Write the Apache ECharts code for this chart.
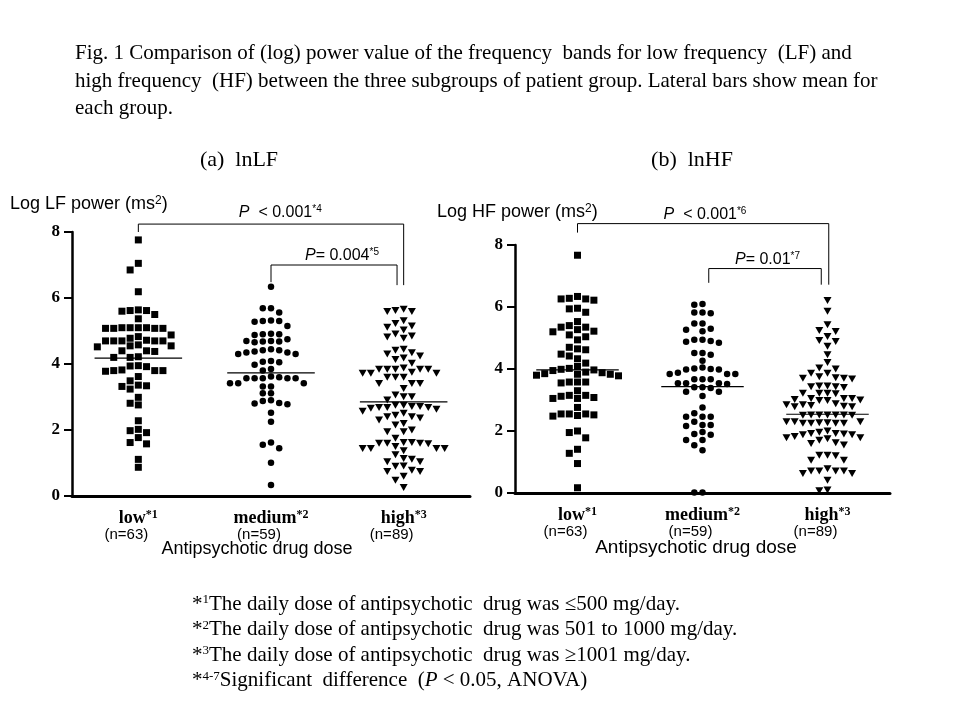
<!DOCTYPE html>
<html><head><meta charset="utf-8">
<script src="https://cdn.jsdelivr.net/npm/echarts@6/dist/echarts.min.js"></script>
<style>html,body{margin:0;padding:0;background:#fff}#c{width:960px;height:720px}</style>
</head><body><div id="c"></div>
<script>
// ---------------- data ----------------
const categories = ['low', 'medium', 'high'];
const categoryNotes = ['*1', '*2', '*3'];
const groupSizes = ['(n=63)', '(n=59)', '(n=89)'];

const lfLow = [7.76, 7.05, 6.85, 6.19, 5.64, 5.62, 5.6, 5.62, 5.5, 5.37, 5.1, 5.1, 5.08, 5.08, 5.08, 5.08, 5.1, 5.1,
  4.88, 4.83, 4.72, 4.7, 4.7, 4.7, 4.7, 4.7, 4.78, 4.58, 4.55, 4.55, 4.52, 4.4, 4.4, 4.38, 4.22, 4.2, 4.2,
  3.95, 3.94, 3.92, 3.8, 3.82, 3.8, 3.8, 3.78, 3.62, 3.49, 3.34, 3.36, 3.32, 3.24, 2.99, 2.81, 2.76, 2.28,
  2.02, 1.98, 1.92, 1.77, 1.62, 1.58, 1.11, 0.87];
const lfMedium = [6.34, 5.69, 5.69, 5.56, 5.32, 5.28, 5.3, 5.3, 5.15, 4.92, 4.9, 4.88, 4.9, 4.7, 4.68, 4.66, 4.68,
  4.7, 4.75, 4.42, 4.35, 4.45, 4.3, 4.35, 4.38, 4.42, 4.3, 4.09, 4.05, 4.07, 3.98, 3.85, 3.8, 3.6, 3.57, 3.57,
  3.57, 3.57, 3.57, 3.62, 3.42, 3.42, 3.42, 3.32, 3.32, 3.11, 3.11, 2.88, 2.8, 2.9, 2.78, 2.82, 2.52, 2.25,
  1.55, 1.45, 1.62, 1.01, 0.33];
const lfHigh = [5.62, 5.59, 5.59, 5.66, 5.31, 5.23, 5.11, 5.03, 5.15, 4.85, 4.78, 4.82, 4.91, 4.42, 4.45, 4.34,
  4.24, 4.14, 4.18, 4.3, 4.02, 3.84, 3.84, 3.84, 3.84, 3.84, 3.88, 3.6, 3.6, 3.72, 3.6, 3.72, 3.72, 3.75, 3.41,
  3.41, 3.41, 3.26, 3.01, 3.06, 2.91, 3.01, 2.71, 2.68, 2.68, 2.71, 2.75, 2.75, 2.68, 2.63, 2.66, 2.57, 2.4,
  2.51, 2.36, 2.4, 2.45, 2.3, 2.15, 1.95, 1.95, 1.6, 1.6, 1.6, 1.62, 1.62, 1.58, 1.44, 1.44, 1.37, 1.44, 1.44,
  1.14, 1.04, 1.04, 1.11, 0.91, 0.74, 0.74, 0.78, 0.48, 0.26, 2.2, 1.75, 1.25, 0.6, 0.9, 1.5, 2.0];
const hfLow = [7.67, 6.34, 6.26, 6.22, 6.26, 6.28, 5.94, 5.83, 5.96, 5.53, 5.4, 5.35, 5.22, 5.2, 5.27, 5.35, 5.1,
  4.94, 5.04, 4.7, 4.62, 4.48, 4.65, 4.42, 4.19, 4.33, 4.08, 3.97, 3.9, 3.88, 3.95, 3.99, 4.02, 3.8, 3.78,
  3.83, 3.83, 3.85, 3.58, 3.55, 3.58, 3.58, 3.3, 3.15, 3.12, 3.05, 3.05, 3.08, 3.15, 2.76, 2.55, 2.52, 2.48,
  2.5, 2.55, 2.55, 1.95, 2.0, 1.78, 1.41, 1.28, 0.95, 0.17];
const hfMedium = [6.07, 6.1, 5.82, 5.8, 5.82, 5.47, 5.47, 5.27, 5.22, 5.3, 4.94, 4.9, 4.85, 4.88, 4.94, 4.52,
  4.52, 4.46, 4.27, 4.02, 4.0, 3.98, 3.98, 4.05, 3.84, 3.84, 3.84, 3.88, 3.67, 3.67, 3.67, 3.54, 3.52, 3.54,
  3.54, 3.41, 3.39, 3.41, 3.27, 3.27, 3.13, 2.76, 2.57, 2.46, 2.46, 2.46, 2.3, 2.19, 2.19, 2.16, 1.97, 1.9,
  1.88, 1.71, 1.71, 1.54, 1.38, 0.02, 0.02];
const hfHigh = [6.21, 5.86, 5.43, 5.21, 5.24, 5.05, 4.89, 4.92, 4.73, 4.46, 4.21, 4.03, 3.86, 4.0, 3.86, 3.7,
  3.72, 3.7, 3.75, 3.68, 3.43, 3.43, 3.45, 3.45, 3.4, 3.22, 3.22, 3.22, 3.2, 3.05, 3.05, 3.0, 2.98, 2.98, 3.02,
  3.05, 2.78, 2.85, 2.8, 2.82, 2.85, 2.88, 2.78, 2.51, 2.51, 2.52, 2.52, 2.52, 2.52, 2.52, 2.3, 2.27, 2.25,
  2.25, 2.25, 2.3, 2.25, 2.27, 2.3, 2.0, 1.92, 1.88, 1.88, 1.9, 1.92, 1.96, 1.75, 1.7, 1.78, 1.78, 1.82, 1.62,
  1.6, 1.55, 1.22, 1.2, 1.06, 1.06, 1.22, 0.78, 0.71, 0.71, 0.71, 0.71, 0.63, 0.63, 0.41, 0.07, 0.1];

const lfMeans = [4.18, 3.73, 2.85];
const hfMeans = [3.97, 3.43, 2.54];

const lfPTexts = ['  < 0.001', '= 0.004'];
const lfPNotes = ['*4', '*5'];
const hfPTexts = ['  < 0.001', '= 0.01'];
const hfPNotes = ['*6', '*7'];

const titleLines = [
  'Fig. 1 Comparison of (log) power value of the frequency  bands for low frequency  (LF) and',
  'high frequency  (HF) between the three subgroups of patient group. Lateral bars show mean for',
  'each group.'
];
const footnotes = [
  ['1', 'The daily dose of antipsychotic  drug was \u2264500 mg/day.'],
  ['2', 'The daily dose of antipsychotic  drug was 501 to 1000 mg/day.'],
  ['3', 'The daily dose of antipsychotic  drug was \u22651001 mg/day.']
];

// ---------------- layout ----------------
const SERIF = '"Liberation Serif", "Times New Roman", serif';
const SANS = '"Liberation Sans", Arial, sans-serif';
const panels = [
  { grid: { left: 72, top: 232, width: 398, height: 264 }, groups: [lfLow, lfMedium, lfHigh], means: lfMeans,
    brackets: [
      { pts: [[0, 8.0], [0, 8.24], [2.0, 8.24], [2.0, 6.39]], text: lfPTexts[0], note: lfPNotes[0], at: [1.07, 8.6] },
      { pts: [[1, 6.48], [1, 7.0], [1.95, 7.0], [1.95, 6.39]], text: lfPTexts[1], note: lfPNotes[1], at: [1.535, 7.3] }
    ] },
  { grid: { left: 515, top: 245, width: 375, height: 248 }, groups: [hfLow, hfMedium, hfHigh], means: hfMeans,
    brackets: [
      { pts: [[0, 8.4], [0, 8.69], [2.01, 8.69], [2.01, 6.72]], text: hfPTexts[0], note: hfPNotes[0], at: [1.02, 8.99] },
      { pts: [[1.05, 6.78], [1.05, 7.24], [1.95, 7.24], [1.95, 6.72]], text: hfPTexts[1], note: hfPNotes[1], at: [1.52, 7.53] }
    ] }
];
const symbols = ['rect', 'circle', 'path://M0,0L10,0L5,9Z'];
const symbolSizes = [7, 6.5, [8, 7]];
const minDy = [7.5, 6.8, 7];

function swarm(values, center, unitPx, yPx, stepPx, dy) {
  const sorted = values.slice().sort((a, b) => b - a);
  const placed = [];
  const out = [];
  sorted.forEach(v => {
    const py = v * yPx;
    for (let k = 0; k < 200; k++) {
      const slot = k === 0 ? 0 : (k % 2 ? -Math.ceil(k / 2) : Math.ceil(k / 2));
      if (!placed.some(p => p.slot === slot && Math.abs(p.py - py) < dy)) {
        placed.push({ slot, py });
        out.push([center + slot * stepPx / unitPx, v]);
        break;
      }
    }
  });
  return out;
}

const grids = [], xAxes = [], yAxes = [], series = [];
panels.forEach((pn, gi) => {
  grids.push(pn.grid);
  xAxes.push({
    type: 'category', gridIndex: gi, data: categories, boundaryGap: true,
    axisLine: { lineStyle: { color: '#000', width: 3 } },
    axisTick: { alignWithLabel: true, length: 7, lineStyle: { color: '#000', width: 2 } },
    splitLine: { show: false },
    axisLabel: {
      margin: 13, color: '#000',
      formatter: (v, i) => `{c|${v}}{s|${categoryNotes[i]}}\n{n|${groupSizes[i]}}`,
      rich: {
        c: { fontFamily: SERIF, fontWeight: 'bold', fontSize: 18, lineHeight: 18, color: '#000' },
        s: { fontFamily: SERIF, fontWeight: 'bold', fontSize: 12, lineHeight: 12, verticalAlign: 'top', color: '#000' },
        n: { fontFamily: SANS, fontSize: 15, lineHeight: 16, color: '#000', padding: [0, 24, 0, 0] }
      }
    }
  });
  xAxes.push({ type: 'value', gridIndex: gi, min: -0.5, max: 2.5, show: false });
  yAxes.push({
    type: 'value', gridIndex: gi, min: 0, max: 8, interval: 2,
    axisLine: { show: true, onZero: false, lineStyle: { color: '#000', width: 2.5 } },
    axisTick: { show: true, length: 8, lineStyle: { color: '#000', width: 2 } },
    splitLine: { show: false },
    axisLabel: { margin: 12, color: '#000', fontFamily: SERIF, fontWeight: 'bold', fontSize: 17 }
  });
  const unitPx = pn.grid.width / 3;
  const yPx = pn.grid.height / 8;
  pn.groups.forEach((vals, ci) => {
    series.push({
      type: 'scatter', xAxisIndex: gi * 2 + 1, yAxisIndex: gi,
      symbol: symbols[ci], symbolSize: symbolSizes[ci],
      itemStyle: { color: '#000', opacity: 1 },
      data: swarm(vals, ci, unitPx, yPx, 8.2, minDy[ci])
    });
    series.push({
      type: 'line', xAxisIndex: gi * 2 + 1, yAxisIndex: gi, symbol: 'none',
      lineStyle: { color: '#000', width: 1.2 },
      data: [[ci - 0.33, pn.means[ci]], [ci + 0.33, pn.means[ci]]]
    });
  });
  pn.brackets.forEach(b => {
    series.push({
      type: 'line', xAxisIndex: gi * 2 + 1, yAxisIndex: gi, symbol: 'none', clip: false,
      lineStyle: { color: '#000', width: 1 }, data: b.pts
    });
  });
});

const chart = echarts.init(document.getElementById('c'), null, { renderer: 'canvas' });
chart.setOption({
  animation: false,
  backgroundColor: '#fff',
  grid: grids, xAxis: xAxes, yAxis: yAxes, series: series
});

// ---------------- texts ----------------
const graphics = [];
titleLines.forEach((t, i) => {
  graphics.push({ type: 'text', left: 75, top: 43 + i * 27.5,
    style: { text: t, fontFamily: SERIF, fontSize: 21, fill: '#000' } });
});
graphics.push({ type: 'text', x: 239, y: 160, style: { text: '(a)  lnLF', fontFamily: SERIF, fontSize: 22, fill: '#000', align: 'center', verticalAlign: 'middle' } });
graphics.push({ type: 'text', x: 692, y: 160, style: { text: '(b)  lnHF', fontFamily: SERIF, fontSize: 22, fill: '#000', align: 'center', verticalAlign: 'middle' } });
const supRich = { s: { fontFamily: SANS, fontSize: 12, lineHeight: 12, verticalAlign: 'top', fill: '#000' } };
graphics.push({ type: 'text', x: 10, y: 204, style: { text: 'Log LF power (ms{s|2})', fontFamily: SANS, fontSize: 18, fill: '#000', verticalAlign: 'middle', rich: supRich } });
graphics.push({ type: 'text', x: 437, y: 212, style: { text: 'Log HF power (ms{s|2})', fontFamily: SANS, fontSize: 18, fill: '#000', verticalAlign: 'middle', rich: supRich } });
graphics.push({ type: 'text', x: 257, y: 549, style: { text: 'Antipsychotic drug dose', fontFamily: SANS, fontSize: 18, fill: '#000', align: 'center', verticalAlign: 'middle' } });
graphics.push({ type: 'text', x: 696, y: 548, style: { text: 'Antipsychotic drug dose', fontFamily: SANS, fontSize: 19, fill: '#000', align: 'center', verticalAlign: 'middle' } });

panels.forEach((pn, gi) => {
  pn.brackets.forEach(b => {
    const p = chart.convertToPixel({ xAxisIndex: gi * 2 + 1, yAxisIndex: gi }, b.at);
    graphics.push({ type: 'text', x: p[0], y: p[1], style: {
      text: `{i|P}${b.text}{s|${b.note}}`, fontFamily: SANS, fontSize: 16, fill: '#000', align: 'center', verticalAlign: 'middle',
      rich: { i: { fontFamily: SANS, fontSize: 16, fontStyle: 'italic', fill: '#000' },
              s: { fontFamily: SANS, fontSize: 10, lineHeight: 10, verticalAlign: 'top', fill: '#000' } } } });
  });
});

const footRich = { s: { fontFamily: SERIF, fontSize: 13, lineHeight: 13, verticalAlign: 'top', fill: '#000' },
                   i: { fontFamily: SERIF, fontSize: 21, fontStyle: 'italic', fill: '#000' } };
footnotes.forEach((f, i) => {
  graphics.push({ type: 'text', x: 192, y: 604 + i * 25.5, style: {
    text: `*{s|${f[0]}}${f[1]}`, fontFamily: SERIF, fontSize: 21, fill: '#000', verticalAlign: 'middle', rich: footRich } });
});
graphics.push({ type: 'text', x: 192, y: 680.5, style: {
  text: '*{s|4-7}Significant  difference  ({i|P} < 0.05, ANOVA)', fontFamily: SERIF, fontSize: 21, fill: '#000', verticalAlign: 'middle', rich: footRich } });

chart.setOption({ graphic: graphics });
</script></body></html>
